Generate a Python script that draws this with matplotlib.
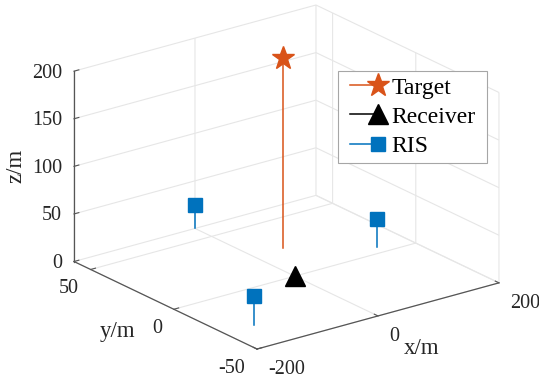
import matplotlib.pyplot as plt
from matplotlib.lines import Line2D
from matplotlib.legend_handler import HandlerLine2D
from matplotlib.transforms import offset_copy
from mpl_toolkits.mplot3d import proj3d

plt.rcParams['font.family'] = ['Liberation Serif', 'DejaVu Serif']
plt.rcParams['axes.unicode_minus'] = False

# positions in metres
target_x, target_y, target_z = [50], [25], [200]
receiver_x, receiver_y, receiver_z = [0], [0], [0]
ris_x = [150, 0, -150]
ris_y = [5, 60, -30]
ris_z = [30, 25, 30]

x_ticks = [-200, 0, 200]
y_ticks = [-50, 0, 50]
z_ticks = [0, 50, 100, 150, 200]

c_target = '#D95319'
c_rx = 'black'
c_ris = '#0072BD'
c_text = '#262626'

fig = plt.figure(figsize=(5.39, 3.83), dpi=100)
ax = fig.add_axes([0.1666, 0.0243, 0.7106, 1.0], projection='3d',
                  proj_type='ortho', computed_zorder=False)
ax.view_init(elev=21.2, azim=-127.1)
ax.set_box_aspect((1, 1, 0.673), zoom=1.2043)


def stem3(xs, ys, zs, color, marker, ms, label):
    for x, y, z in zip(xs, ys, zs):
        ax.plot([x, x], [y, y], [0, z], color=color, lw=1.1)
    ax.plot(xs, ys, zs, ls='none', marker=marker, ms=ms, color=color,
            mec=color, label=label)


stem3(target_x, target_y, target_z, c_target, '*', 17, 'Target')
stem3(receiver_x, receiver_y, receiver_z, c_rx, '^', 15, 'Receiver')
stem3(ris_x, ris_y, ris_z, c_ris, 's', 10, 'RIS')

ax.set_xlim(-200, 200)
ax.set_ylim(-50, 60)
ax.set_zlim(0, 200)
ax.set_xticks(x_ticks)
ax.set_yticks(y_ticks)
ax.set_zticks(z_ticks)

for axis in (ax.xaxis, ax.yaxis, ax.zaxis):
    # labels are drawn by hand below, MATLAB style
    axis.set_tick_params(labelbottom=False, labeltop=False, colors='#555555')
    axis.label.set_visible(False)
    axis.offsetText.set_visible(False)
    axis.set_pane_color((1, 1, 1, 0))
    axis.pane.set_edgecolor('#dedede')
    axis.pane.set_linewidth(0.8)
    axis._axinfo['grid'].update(color='#e6e6e6', linewidth=0.8)
    axis._axinfo['tick'].update(inward_factor=0.0, outward_factor=0.25)
    axis.line.set_color('#555555')
    axis.line.set_linewidth(0.9)

M = ax.get_proj()


# tick labels placed like MATLAB does, offset in pixels from each tick point
def tick_text(points, values, dx, dy, ha):
    tr = offset_copy(ax.transData, fig=fig, x=dx, y=dy, units='dots')
    for (x, y, z), v in zip(points, values):
        px, py, _ = proj3d.proj_transform(x, y, z, M)
        ax.text2D(px, py, str(v), transform=tr, ha=ha, va='baseline',
                  fontsize=14.5, color=c_text)


tick_text([(v, -50, 0) for v in x_ticks], x_ticks, 11, -25, 'left')
tick_text([(-200, v, 0) for v in y_ticks], y_ticks, -11.5, -24, 'right')
tick_text([(-200, 60, v) for v in z_ticks], z_ticks, -12, -6.5, 'right')

fig.text(16 / 539, 1 - 166 / 383, 'z/m', rotation=90, ha='center', va='center',
         fontsize=16.5, color=c_text)
fig.text(118 / 539, 1 - 332 / 383, 'y/m', ha='center', va='center',
         fontsize=16.5, color=c_text)
fig.text(422 / 539, 1 - 348 / 383, 'x/m', ha='center', va='center',
         fontsize=16.5, color=c_text)


class StemHandler(HandlerLine2D):
    # MATLAB stem legend: short line with the marker at its right end
    def create_artists(self, legend, orig_handle, xdescent, ydescent,
                       width, height, fontsize, trans):
        y = (height - ydescent) / 2
        x0 = -xdescent + 0.14 * width
        xm = -xdescent + 0.78 * width
        line = Line2D([x0, xm], [y, y], color=orig_handle.get_color(), lw=1.1)
        mark = Line2D([xm], [y], ls='none', marker=orig_handle.get_marker(),
                      ms=orig_handle.get_markersize(),
                      color=orig_handle.get_color(), mec=orig_handle.get_color())
        line.set_transform(trans)
        mark.set_transform(trans)
        return [line, mark]


handles, labels = ax.get_legend_handles_labels()
leg = fig.legend(handles, labels, loc='upper left', mode='expand',
                 bbox_to_anchor=(338 / 539, 1 - 161 / 383, 149 / 539, 90 / 383),
                 borderaxespad=0, fontsize=17,
                 handler_map={Line2D: StemHandler()}, handlelength=1.85,
                 handletextpad=0.15, labelspacing=0.32, borderpad=0.26,
                 fancybox=False, framealpha=1, edgecolor='#a6a6a6')
leg.get_frame().set_linewidth(0.8)
for t in leg.get_texts():
    t.set_color('black')

fig.savefig('out.png', dpi=100)
